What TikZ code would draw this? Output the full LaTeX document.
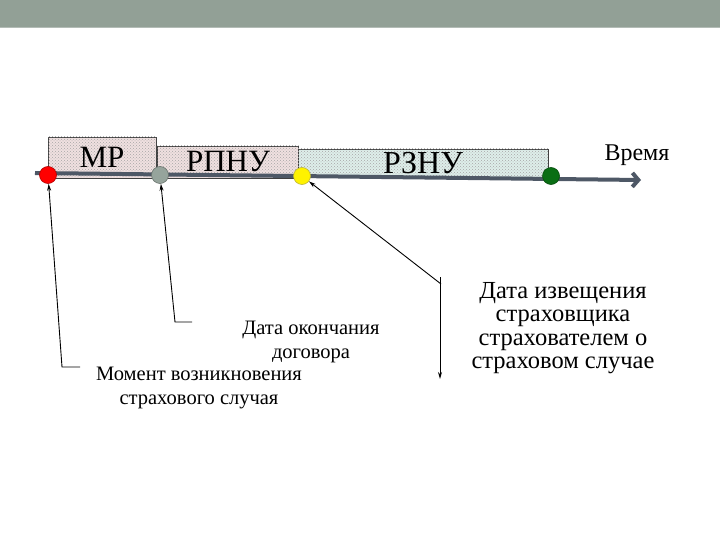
\documentclass[tikz,border=0pt]{standalone}
\usepackage{fontspec}
\setmainfont{Liberation Serif}
\newfontfamily\tnr{Liberation Serif}
\usepackage{xcolor}
\usetikzlibrary{arrows.meta, patterns}
\definecolor{Banda}{RGB}{146,160,150}
\definecolor{Eje}{RGB}{78,88,102}
\definecolor{Rosa}{RGB}{240,224,224}
\definecolor{Menta}{RGB}{222,238,234}
\definecolor{Gris}{RGB}{150,164,156}
\definecolor{Verde}{RGB}{10,110,20}

\begin{document}
\begin{tikzpicture}[
  x=1pt, y=-1pt,
  periodo/.style={
    draw=black!75, line width=0.6pt,
    fill=#1, inner sep=0pt,
    postaction={pattern=crosshatch dots, pattern color=black!35},
    font=\tnr\fontsize{31}{31}\selectfont
  },
  punto/.style={
    circle, draw=#1!70!black, fill=#1,
    minimum size=17pt, inner sep=0pt, line width=0.6pt
  },
  flecha/.style={-{Stealth[length=7pt,width=4pt]}, black, line width=0.9pt},
  rotulo/.style={align=center, font=\tnr\fontsize{20.5}{24}\selectfont}
]
\useasboundingbox (0,0) rectangle (720,540);
\fill[Banda] (0,0) rectangle (720,27);
\draw[Banda!70!white, line width=1pt] (0,27.5) -- (720,27.5);

% periodos
\node[periodo=Rosa, minimum width=108pt, minimum height=41pt] (mr) at (102,157.5) {МР};
\node[periodo=Rosa, minimum width=141pt, minimum height=32pt] (rpnu) at (228,162) {РПНУ};
\node[periodo=Menta, minimum width=250pt, minimum height=28pt,
  font=\tnr\fontsize{32}{32}\selectfont] (rznu) at (423,163) {РЗНУ};

% eje del tiempo
\coordinate (t0) at (35,173);
\coordinate (t1) at (641,180);
\draw[Eje, line width=4pt, -{Straight Barb[length=6pt,width=14pt]}] (t0) -- (t1);
\node[font=\tnr\fontsize{24}{24}\selectfont] (tiempo) at (637,155) {Время};

\node[punto=red] (p1) at (48,175) {};
\node[punto=Gris] (p2) at (160,175) {};
\node[punto=yellow] (p3) at (302,176) {};
\node[punto=Verde] (p4) at (551,176) {};

% rotulos
\node[rotulo] (momento) at (199,388) {Момент возникновения\\страхового случая};
\node[rotulo] (fin) at (311,342) {Дата окончания\\договора};
\node[rotulo, font=\tnr\fontsize{24.5}{23.5}\selectfont] (aviso) at (563,328)
  {Дата извещения\\страховщика\\страхователем о\\страховом случае};

\coordinate (a1) at (80,367);
\coordinate (b1) at (62,367);
\coordinate (a2) at (192,322);
\coordinate (b2) at (175,322);
\coordinate (b3) at (441,284);
\coordinate (v1) at (440,277);
\coordinate (v2) at (440,379);

\draw[flecha] (a1) -- (b1) -- (p1);
\draw[flecha] (a2) -- (b2) -- (p2);
\draw[flecha] (b3) -- (p3);
\draw[flecha] (v1) -- (v2);

\end{tikzpicture}
\end{document}
